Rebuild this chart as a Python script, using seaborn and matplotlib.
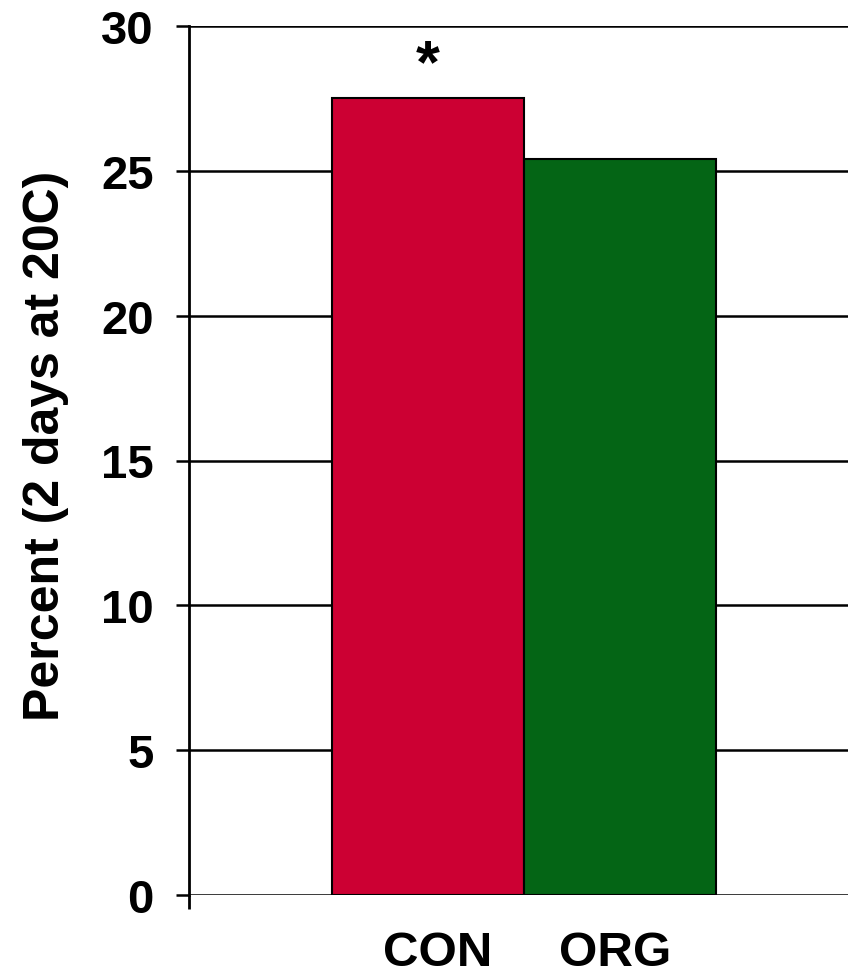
import matplotlib
matplotlib.use("Agg")
import matplotlib.pyplot as plt
import seaborn as sns
import pandas as pd

# Data
groups = ["CON", "ORG"]
percent = [27.5, 25.4]
bar_colors = ["#CC0033", "#046515"]
y_ticks = [0, 5, 10, 15, 20, 25, 30]

sns.set_theme(style="white")
plt.rcParams["font.family"] = ["Liberation Sans", "DejaVu Sans"]
plt.rcParams["font.weight"] = "bold"
plt.rcParams["text.color"] = "black"
plt.rcParams["xtick.color"] = "black"
plt.rcParams["ytick.color"] = "black"
plt.rcParams["axes.labelcolor"] = "black"

df = pd.DataFrame({"group": groups, "percent": percent})

fig = plt.figure(figsize=(8.48, 9.79), dpi=100)
ax = fig.add_axes([189 / 848, 83 / 979, 1 - 189 / 848, (896 - 27) / 979])

sns.barplot(data=df, x="group", y="percent", hue="group", palette=bar_colors,
            saturation=1, width=1.0, edgecolor="black", linewidth=1.5,
            legend=False, ax=ax, zorder=3)

ax.set_ylim(0, 30)
ax.set_xlim(-1.245, 2.1875)
ax.set_yticks(y_ticks)
ax.set_yticklabels([str(v) for v in y_ticks], fontsize=34, fontweight="bold")

# Category labels under the bars, nudged slightly toward each other
ax.set_xticks(range(len(groups)))
ax.set_xticklabels([])
label_shifts = [7.2, -3.2]
for i, (name, dx) in enumerate(zip(groups, label_shifts)):
    ax.annotate(name, xy=(i, 0), xycoords=("data", "axes fraction"),
                xytext=(dx, -50.4), textcoords="offset points",
                ha="center", va="baseline", fontsize=35.5, fontweight="bold",
                color="black", annotation_clip=False)

ax.yaxis.grid(True, color="black", linewidth=1.8)
ax.set_axisbelow(True)

for side in ("top", "right", "bottom"):
    ax.spines[side].set_visible(False)
ax.spines["left"].set_color("black")
ax.spines["left"].set_linewidth(2)
ax.spines["left"].set_zorder(4)

ax.tick_params(axis="y", direction="out", length=9.4, width=1.8, color="black",
               left=True, pad=16)
ax.tick_params(axis="x", which="major", length=0)
ax.set_xticks([-1.245], minor=True)
ax.tick_params(axis="x", which="minor", direction="out", length=10, width=2,
               color="black", bottom=True)

ax.set_xlabel("")
ax.set_ylabel("Percent (2 days at 20C)", fontsize=36, fontweight="bold")
ax.yaxis.set_label_coords(-0.217, 0.518)
ax.yaxis.label.set_va("center")

# Significance marker above the CON bar
ax.text(0, 28.62, "*", ha="center", va="center", fontsize=44,
        fontweight="bold", color="black")

fig.savefig("out.png", dpi=100)
